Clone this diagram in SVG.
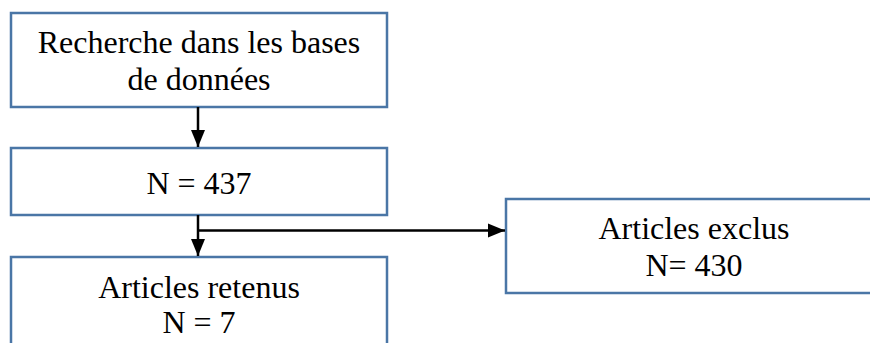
<svg xmlns="http://www.w3.org/2000/svg" width="870" height="343" viewBox="0 0 870 343">
<style>
.box{fill:#ffffff;stroke:#4a76a6;stroke-width:2.5}
.t{font-family:'Liberation Serif','DejaVu Serif',serif;font-size:32px;fill:#000;text-anchor:middle}
.c{stroke:#000;stroke-width:2.5;fill:none}
</style>
<defs>
<marker id="ah" markerUnits="userSpaceOnUse" markerWidth="17" markerHeight="16" viewBox="0 0 17 16" refX="17" refY="8" orient="auto">
<path d="M0,1 L17,8 L0,15 Z" fill="#000"/>
</marker>
</defs>
<g id="n1"><rect class="box" x="11" y="13" width="376" height="94"/>
<text class="t" x="199" y="53">Recherche dans les bases</text>
<text class="t" x="199" y="90">de données</text></g>
<g id="n2"><rect class="box" x="11" y="148" width="376" height="67"/>
<text class="t" x="199" y="194">N = 437</text></g>
<g id="n3"><rect class="box" x="11" y="257" width="376" height="100"/>
<text class="t" x="199" y="298">Articles retenus</text>
<text class="t" x="199" y="333">N = 7</text></g>
<g id="n4"><rect class="box" x="506" y="199" width="380" height="94"/>
<text class="t" x="694" y="239">Articles exclus</text>
<text class="t" x="694" y="276">N= 430</text></g>
<g id="connectors">
<line class="c" x1="198" y1="107" x2="198" y2="147" marker-end="url(#ah)"/>
<line class="c" x1="198" y1="215" x2="198" y2="256" marker-end="url(#ah)"/>
<line class="c" x1="197" y1="230.5" x2="505" y2="230.5" marker-end="url(#ah)"/>
</g>
</svg>
